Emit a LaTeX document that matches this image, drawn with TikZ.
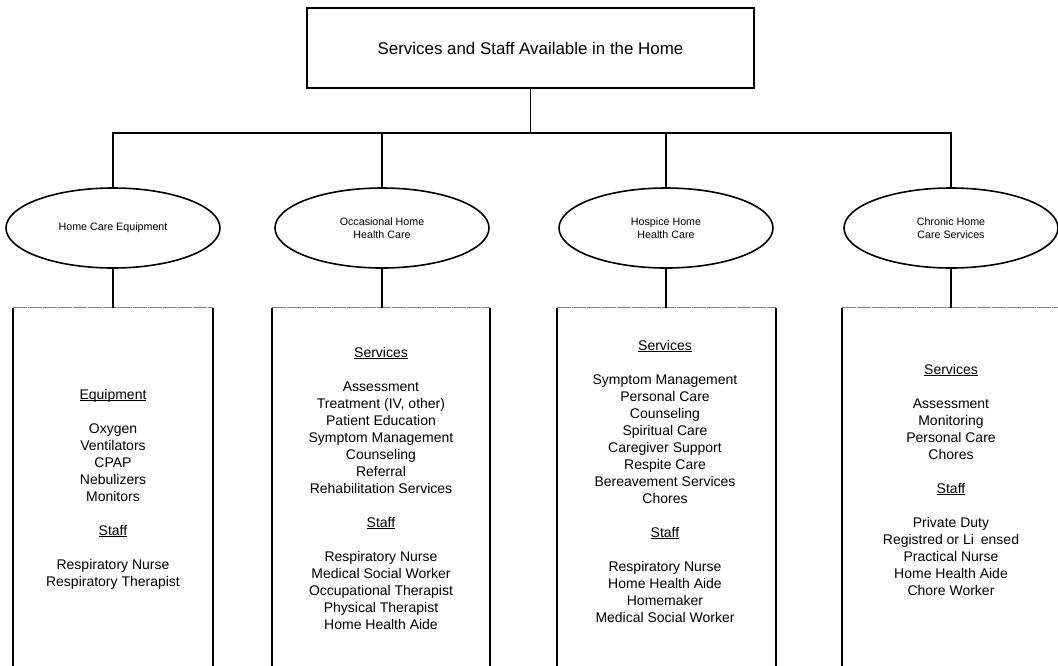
\documentclass[tikz,border=0pt]{standalone}
\usepackage{fontspec}
\setmainfont{Liberation Sans}
\usetikzlibrary{shapes.geometric}

% heading with an underline that runs just under the baseline
\newcommand\hd[1]{\setbox0\hbox{#1}\rlap{\rule[-2.4pt]{\wd0}{1.1pt}}\box0}
\newcommand\gap{\\[17pt]}

\tikzset{
  line/.style={line width=1.6pt, black},
  topbox/.style={draw, line width=1.6pt, rectangle, minimum width=447pt, minimum height=80pt,
                 inner sep=0pt, font=\fontsize{16.9}{20}\selectfont},
  kind/.style={draw, line width=1.6pt, ellipse, minimum width=214pt, minimum height=80pt,
               inner sep=0pt, align=center, font=\fontsize{10.7}{13}\selectfont},
  panel/.style={rectangle, minimum height=392pt, inner sep=0pt},
  paneltop/.style={line width=1.2pt, black!50, dash pattern=on 14pt off 1pt},
  % anchored at the baseline of the last line
  list/.style={anchor=base, align=center, inner sep=0pt, font=\fontsize{14}{17}\selectfont},
}

\begin{document}
\begin{tikzpicture}[x=1pt, y=-1pt]
  \path[use as bounding box, fill=white] (0,0) rectangle (1058,665);

  % root
  \node[topbox] (root) at (530.5,48) {Services and Staff Available in the Home};
  \coordinate (bus) at (530.5,133);

  % the four kinds of care
  \node[kind] (e1) at (113,228) {Home Care Equipment};
  \node[kind] (e2) at (382,228) {Occasional Home\\Health Care};
  \node[kind] (e3) at (666,228) {Hospice Home\\Health Care};
  \node[kind] (e4) at (951,228) {Chronic Home\\Care Services};

  % panels (open at the bottom)
  \node[panel, minimum width=200pt] (b1) at (113,504) {};
  \node[panel, minimum width=218pt] (b2) at (381,504) {};
  \node[panel, minimum width=219pt] (b3) at (666.5,504) {};
  \node[panel, minimum width=230pt] (b4) at (957,504) {};

  \foreach \b in {b1,b2,b3,b4}{
    \draw[paneltop] (\b.north west) -- (\b.north east);
    \draw[line] (\b.south west) -- (\b.north west);
    \draw[line] (\b.north east) -- (\b.south east);
  }

  % tree connectors
  \draw[line] (root.south) -- (bus);
  \draw[line] (e1.north) |- (bus) -| (e4.north);
  \draw[line] (e2.north) -- (e2.north |- bus);
  \draw[line] (e3.north) -- (e3.north |- bus);
  \foreach \i in {1,2,3,4}{
    \draw[line] (e\i.south) -- (b\i.north -| e\i.south);
  }

  % panel contents
  \node[list] (t1) at (113,586) {\hd{Equipment}\gap
    Oxygen\\Ventilators\\CPAP\\Nebulizers\\Monitors\gap
    \hd{Staff}\gap
    Respiratory Nurse\\Respiratory Therapist};

  \node[list] (t2) at (381,629) {\hd{Services}\gap
    Assessment\\Treatment (IV, other)\\Patient Education\\Symptom Management\\
    Counseling\\Referral\\Rehabilitation Services\gap
    \hd{Staff}\gap
    Respiratory Nurse\\Medical Social Worker\\Occupational Therapist\\
    Physical Therapist\\Home Health Aide};

  \node[list] (t3) at (665,622) {\hd{Services}\gap
    Symptom Management\\Personal Care\\Counseling\\Spiritual Care\\
    Caregiver Support\\Respite Care\\Bereavement Services\\Chores\gap
    \hd{Staff}\gap
    Respiratory Nurse\\Home Health Aide\\Homemaker\\Medical Social Worker};

  \node[list] (t4) at (951,595) {\hd{Services}\gap
    Assessment\\Monitoring\\Personal Care\\Chores\gap
    \hd{Staff}\gap
    Private Duty\\Registred or Li\hphantom{c}ensed\\Practical Nurse\\Home Health Aide\\Chore Worker};
\end{tikzpicture}
\end{document}
